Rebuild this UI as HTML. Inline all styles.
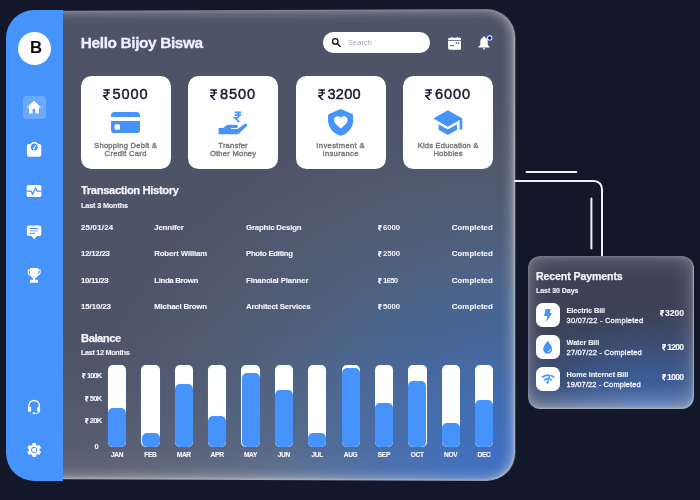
<!DOCTYPE html>
<html><head><meta charset="utf-8"><title>Dashboard</title>
<style>
*{box-sizing:border-box;margin:0;padding:0}
html,body{width:700px;height:500px;overflow:hidden}
body{background:#13172a;font-family:"Liberation Sans",sans-serif;position:relative}
.abs,.t,svg.i{position:absolute}
.t{white-space:nowrap;display:block}
.side{left:6.3px;top:9.7px;width:56.6px;height:470.9px;background:#4593fb;border-radius:28px 0 0 28px}
.panel{left:6.5px;top:10.8px;width:504.4px;height:468.4px;border-radius:28px;transform-origin:0 50%;transform:perspective(1000px) rotateY(-0.975deg);
 background:radial-gradient(ellipse 230px 110px at 100% 100%,rgba(52,104,196,.5) 0%,rgba(52,104,196,.25) 50%,rgba(52,104,196,0) 100%),linear-gradient(to top,rgba(255,255,255,.21) 0,rgba(255,255,255,.14) 6px,rgba(255,255,255,.085) 14px,rgba(255,255,255,.055) 30px,rgba(255,255,255,.035) 60px,rgba(255,255,255,.015) 100px,rgba(255,255,255,0) 150px),
 radial-gradient(ellipse 430px 350px at 100% 94%,#3a6cbd 0%,#3e6aae 13%,#4468a1 26%,#486593 39%,#4c6488 50%,#505e7a 63%,#50596f 80%,#4e5468 100%);
 box-shadow:inset -1.6px -1.5px 0 0 rgba(178,178,176,.62), inset 0 0 14px rgba(255,255,255,.38), inset 0 0 4px rgba(255,255,255,.2), inset -6px 0 12px -4px rgba(255,255,255,.3);}
.card{top:75.5px;width:90px;height:93.3px;background:#fff;border-radius:10.5px}
.bar{top:364.7px;width:18.3px;height:82.2px;background:#fff;border-radius:5px;overflow:hidden;box-shadow:0 0 0 .5px rgba(70,110,190,.45)}
.bar i{position:absolute;left:.15px;right:.15px;bottom:.15px;background:#4593fb;border-radius:5px}
.tile{left:535.7px;width:24.2px;height:24.4px;background:#fff;border-radius:6.5px}
.rp{left:527.5px;top:256px;width:166.3px;height:152.8px;border-radius:12px;
 background:linear-gradient(to top,rgba(255,255,255,.22) 0,rgba(255,255,255,.13) 7px,rgba(255,255,255,.05) 16px,rgba(255,255,255,0) 26px),
 radial-gradient(ellipse 185px 100px at 74% 100%,#3c64a6 0%,#3b5b92 35%,rgba(60,84,130,.55) 68%,rgba(61,66,87,0) 100%),
 #3c4156;
 box-shadow:inset -1.3px -1.3px 0 0 rgba(170,172,178,.8), inset 0 0 26px rgba(255,255,255,.27), inset 0 0 8px rgba(255,255,255,.24), inset 0 0 2px rgba(255,255,255,.2);}
</style></head>
<body>


<div class="abs panel"></div>
<div class="abs side"></div>

<!-- avatar -->
<div class="abs" style="left:18.2px;top:32px;width:33px;height:33px;border-radius:50%;background:#fff"></div>
<span class="t" style="left:15.5px;width:40px;text-align:center;top:39.4px;height:18px;line-height:18px;font-size:16.8px;font-weight:700;color:#0b0b10;will-change:transform">B</span>

<!-- sidebar icons -->
<div class="abs" style="left:22.9px;top:95.9px;width:23px;height:23.1px;border-radius:3.6px;background:rgba(255,255,255,.21)"></div>
<svg class="i" style="left:0;top:0" width="70" height="500" viewBox="0 0 70 500">
<g fill="#fff">
<!-- home -->
<path transform="translate(25.48 98.42) scale(.71 .76)" d="M10 20v-6h4v6h5v-8h3L12 3 2 12h3v8z"/>
<!-- scale -->
<rect x="26.9" y="144" width="14.4" height="12.7" rx="1.9"/>
<circle cx="34.3" cy="147" r="4.9"/>
<!-- heartbeat -->
<rect x="26.7" y="185" width="14.7" height="12" rx="1.7"/>
<!-- message -->
<path d="M28.6 225.500H39.600A1.700 1.700 0 0 1 41.300 227.200V234.300A1.700 1.700 0 0 1 39.600 236H37L34.200 239.200 31.400 236H28.600A1.700 1.700 0 0 1 26.900 234.300V227.200A1.700 1.700 0 0 1 28.600 225.500Z"/>
<!-- trophy -->
<path d="M29.900 268.100H38.300V269.600H40.700V272.200C40.700 274 39.500 275.300 37.900 275.500 37.300 277 36.200 277.900 35 278.200V279.800H36.900C37.600 279.800 38.100 280.300 38.100 281V282.700H29.900V281C29.900 280.300 30.400 279.800 31.100 279.800H33.200V278.200C32 277.900 30.900 277 30.300 275.500 28.700 275.300 27.800 274 27.800 272.200V269.600H29.900ZM28.900 270.700V272.200C28.900 273.200 29.300 273.900 30 274.200 29.900 273.600 29.900 273 29.900 272.400V270.700ZM39.600 270.700H38.300V272.400C38.300 273 38.300 273.600 38.200 274.200 38.900 273.900 39.600 273.200 39.600 272.200Z"/>
<!-- headset cups -->
<rect x="28" y="406.800" width="3.100" height="4.900" rx="1.200"/>
<rect x="37.100" y="406.800" width="3" height="4.900" rx="1.200"/>
<ellipse cx="34" cy="413.300" rx="1.500" ry="1"/>
</g>
<!-- scale dial -->
<circle cx="34.300" cy="147" r="3.500" fill="#4593fb"/>
<path d="M33.800 148.600 35.800 145.200" stroke="#fff" stroke-width="1" stroke-linecap="round"/>
<circle cx="33.800" cy="148.600" r=".9" fill="#fff"/>
<!-- heartbeat line -->
<path d="M26.700 191.100H31.100L32.600 194.300 35.600 188 37.100 191.100H41.400" fill="none" stroke="#4593fb" stroke-width="1.300" stroke-linejoin="round"/>
<!-- message lines -->
<path d="M29.900 228.500H38.200" stroke="#4593fb" stroke-width="1"/>
<path d="M29.900 230.900H38.200" stroke="#8fbcfc" stroke-width="1.100"/>
<path d="M29.900 233.300H35" stroke="#4593fb" stroke-width="1"/>
<!-- headset band + mic -->
<path d="M28.800 408V405.800A5.300 5.300 0 0 1 39.400 405.800V408" fill="none" stroke="#fff" stroke-width="1.300"/>
<path d="M39.200 411V411.600C39.200 412.700 38.300 413.300 37.300 413.300H34.500" fill="none" stroke="#fff" stroke-width=".9"/>
<!-- gear -->
<g transform="translate(34.200 450)">
<g fill="#fff"><circle r="5.300"/>
<rect x="-1.900" y="-7" width="3.800" height="14" rx="1"/>
<rect x="-1.900" y="-7" width="3.800" height="14" rx="1" transform="rotate(60)"/>
<rect x="-1.900" y="-7" width="3.800" height="14" rx="1" transform="rotate(120)"/></g>
<circle r="2.700" fill="none" stroke="#4593fb" stroke-width="1"/>
</g>
</svg>

<!-- search -->
<div class="abs" style="left:323px;top:32.3px;width:107px;height:20.6px;border-radius:10.3px;background:#fff"></div>
<svg class="i" style="left:330px;top:36px" width="14" height="14" viewBox="330 36 14 14"><circle cx="335.25" cy="41.4" r="2.72" fill="none" stroke="#0c0c10" stroke-width="1.3"/><path d="M337.300 43.500 340.200 46.400" stroke="#0c0c10" stroke-width="1.350" stroke-linecap="round"/></svg>
<!-- calendar -->
<svg class="i" style="left:447.8px;top:37.2px" width="13.4" height="12.8" viewBox="0 0 27 26"><rect x="0" y="1.500" width="27" height="24.500" rx="3.500" fill="#fff"/><rect x="6.500" y="0" width="3" height="4" rx="1" fill="#fff"/><rect x="17.500" y="0" width="3" height="4" rx="1" fill="#fff"/><rect x="0" y="6.200" width="27" height="1.600" fill="#555a70"/><g fill="#3a3f55"><rect x="15.500" y="11" width="2.800" height="2.800"/><rect x="20" y="11" width="2.800" height="2.800"/><rect x="4.500" y="16" width="2.800" height="2.800"/><rect x="9" y="16" width="2.800" height="2.800"/></g></svg>
<!-- bell -->
<svg class="i" style="left:478.4px;top:36.4px;overflow:visible" width="14.6" height="13.8" viewBox="0 0 29 27.600"><path fill="#fff" d="M12 0.500C11 0.500 10.300 1.200 10.300 2.200V3C6.500 3.900 4.600 7 4.600 11V16.500C4.600 18.800 2.500 20 0.800 21.500 0.200 22 0.600 23 1.400 23H22.600C23.400 23 23.800 22 23.200 21.500 21.500 20 19.400 18.800 19.400 16.500V11C19.400 7 17.500 3.900 13.700 3V2.200C13.700 1.200 13 .5 12 .5zM9.600 24.300H14.400C14.400 25.800 13.400 26.800 12 26.800S9.600 25.800 9.600 24.300z"/><circle cx="23.400" cy="3.800" r="5.300" fill="#fff"/><circle cx="23.400" cy="3.800" r="3.500" fill="#0808c8"/></svg>

<!-- cards -->
<div class="abs card" style="left:80.500px"></div>
<div class="abs card" style="left:188px"></div>
<div class="abs card" style="left:295.600px"></div>
<div class="abs card" style="left:403px"></div>
<svg class="i" style="left:111px;top:111.8px" width="29" height="21.4" viewBox="0 0 29 21.4"><rect width="29" height="21.4" rx="3.6" fill="#4593fb"/><rect y="5" width="29" height="4" fill="#fff"/><rect x="3.6" y="12.2" width="5.4" height="5.6" rx="1.6" fill="#fff"/></svg>
<svg class="i" style="left:218px;top:111px" width="30" height="24" viewBox="0 0 30 24"><path fill="#4593fb" d="M0.6 17H5L8.6 14.300Q9.400 13.700 10.400 13.700H18.200A1.700 1.700 0 0 1 18.200 17.100H13.200V18.100H19.600L26.500 13.100A1.500 1.500 0 0 1 28.700 15.200L20.800 22.600Q20.200 23.200 19.200 23.200H0.6Z"/><g transform="translate(16.300 0.500) scale(0.1029 0.110)"><path d="M4 8H66M4 33H66M4 8H24C50 8 50 58 24 58H6L48 97" fill="none" stroke="#4593fb" stroke-width="15"/></g></svg>
<svg class="i" style="left:327.8px;top:108.8px" width="25.2" height="26.8" viewBox="0 0 25.2 26.8"><path fill="#4593fb" d="M12.600 0.2Q13.2 0.200 13.800 0.500L24.200 5.100Q25.200 5.600 25.200 6.700V11C25.200 18.500 19.800 24.500 13.600 26.500Q12.600 26.800 11.600 26.500C5.400 24.500 0 18.500 0 11V6.700Q0 5.600 1 5.100L11.400 0.500Q12 0.200 12.600 0.200Z"/><path fill="#fff" transform="translate(4.64 5.17) scale(0.68 0.676)" d="M12 21.350l-1.450-1.320C5.400 15.360 2 12.280 2 8.500 2 5.420 4.420 3 7.500 3c1.740 0 3.410.810 4.500 2.090C13.090 3.810 14.760 3 16.500 3 19.580 3 22 5.420 22 8.500c0 3.780-3.400 6.860-8.550 11.540L12 21.350z"/></svg>
<svg class="i" style="left:432.1px;top:106.3px" width="31.6" height="33.1" viewBox="0 0 24 24" preserveAspectRatio="none"><path fill="#4593fb" d="M5 13.180v4L12 21l7-3.820v-4L12 17l-7-3.820zM12 3L1 9l11 6 9-4.910V17h2V9L12 3z"/></svg>

<!-- bars -->
<div class="abs bar" style="left:108.00px"><i style="height:38.9px"></i></div>
<div class="abs bar" style="left:141.36px"><i style="height:13.7px"></i></div>
<div class="abs bar" style="left:174.72px"><i style="height:62.7px"></i></div>
<div class="abs bar" style="left:208.08px"><i style="height:31.0px"></i></div>
<div class="abs bar" style="left:241.44px"><i style="height:73.7px"></i></div>
<div class="abs bar" style="left:274.80px"><i style="height:57.1px"></i></div>
<div class="abs bar" style="left:308.16px"><i style="height:13.7px"></i></div>
<div class="abs bar" style="left:341.52px"><i style="height:78.3px"></i></div>
<div class="abs bar" style="left:374.88px"><i style="height:43.9px"></i></div>
<div class="abs bar" style="left:408.24px"><i style="height:65.8px"></i></div>
<div class="abs bar" style="left:441.60px"><i style="height:23.5px"></i></div>
<div class="abs bar" style="left:474.96px"><i style="height:46.7px"></i></div>

<!-- connector lines -->
<svg class="i" style="left:500px;top:160px" width="120" height="100" viewBox="500 160 120 100" fill="none" stroke="#f1f1f3" stroke-width="2" stroke-linecap="round"><path d="M526.500 172H576.300"/><path d="M515 180.900H594A8 8 0 0 1 602 188.900V257"/><path d="M591.400 198.600V248.600"/></svg>

<!-- recent payments -->
<div class="abs rp"></div>
<div class="abs tile" style="top:302.5px"></div>
<div class="abs tile" style="top:335px"></div>
<div class="abs tile" style="top:366.8px"></div>
<svg class="i" style="left:543px;top:308.2px" width="10" height="15" viewBox="543 308.2 10 15"><path fill="#4593fb" d="M545.600 309.200H550.600L549.800 313.500H552.100L546.100 322.100 547.300 316.200H544Z"/></svg>
<svg class="i" style="left:542px;top:340px" width="11" height="15" viewBox="542 340 11 15"><path fill="#4593fb" d="M547.700 340.800C549.500 343.200 552.200 346.500 552.200 349.300A4.500 4.500 0 0 1 543.200 349.300C543.200 346.500 545.900 343.200 547.700 340.800Z"/><path d="M548.300 351.700Q550.300 351.400 550.700 349.500" stroke="#fff" stroke-width="0.9" fill="none" stroke-linecap="round"/></svg>
<svg class="i" style="left:540px;top:372px" width="16" height="14" viewBox="540 372 16 14" fill="none" stroke="#4593fb" stroke-linecap="round"><path d="M542.300 377.100Q545.200 375 548.600 375.100" stroke-width="1.600"/><path d="M551.200 375.600Q552.700 376.100 553.700 377.300" stroke-width="1.600"/><path d="M544.500 379.900Q545.800 378.700 547.400 378.500" stroke-width="1.500"/><path d="M550.300 379.100Q551 379.300 551.500 379.900" stroke-width="1.500"/><path d="M549.600 375.800 547.500 382.600" stroke-width="1.600"/><circle cx="547.400" cy="382.700" r="0.600" fill="#4593fb" stroke-width="1"/></svg>

<div class="abs" style="left:0;top:0;width:700px;height:500px;will-change:transform">
<svg class="i" style="left:102.50px;top:88.77px;color:#15192d" width="7.42" height="11.71" viewBox="0 0 70 100" preserveAspectRatio="none"><path d="M4 8H66M4 33H66M4 8H24C50 8 50 58 24 58H6L48 97" fill="none" stroke="currentColor" stroke-width="12.5"/></svg><span class="t a" style="top:85.00px;height:18px;line-height:18px;font-size:14.6px;font-weight:400;color:#15192d;-webkit-text-stroke:0.45px #15192d;letter-spacing:0.876px;right:551.62px;">5000</span>
<svg class="i" style="left:210.20px;top:88.77px;color:#15192d" width="7.42" height="11.71" viewBox="0 0 70 100" preserveAspectRatio="none"><path d="M4 8H66M4 33H66M4 8H24C50 8 50 58 24 58H6L48 97" fill="none" stroke="currentColor" stroke-width="12.5"/></svg><span class="t a" style="top:85.00px;height:18px;line-height:18px;font-size:14.6px;font-weight:400;color:#15192d;-webkit-text-stroke:0.45px #15192d;letter-spacing:0.876px;right:443.92px;">8500</span>
<svg class="i" style="left:317.60px;top:88.77px;color:#15192d" width="7.42" height="11.71" viewBox="0 0 70 100" preserveAspectRatio="none"><path d="M4 8H66M4 33H66M4 8H24C50 8 50 58 24 58H6L48 97" fill="none" stroke="currentColor" stroke-width="12.5"/></svg><span class="t a" style="top:85.00px;height:18px;line-height:18px;font-size:14.6px;font-weight:400;color:#15192d;-webkit-text-stroke:0.45px #15192d;letter-spacing:0.209px;right:339.19px;">3200</span>
<svg class="i" style="left:425.20px;top:88.77px;color:#15192d" width="7.42" height="11.71" viewBox="0 0 70 100" preserveAspectRatio="none"><path d="M4 8H66M4 33H66M4 8H24C50 8 50 58 24 58H6L48 97" fill="none" stroke="currentColor" stroke-width="12.5"/></svg><span class="t a" style="top:85.00px;height:18px;line-height:18px;font-size:14.6px;font-weight:400;color:#15192d;-webkit-text-stroke:0.45px #15192d;letter-spacing:0.876px;right:228.92px;">6000</span>
<svg class="i" style="left:378.00px;top:225.34px;color:#f4f4fb" width="3.79" height="5.93" viewBox="0 0 70 100" preserveAspectRatio="none"><path d="M4 8H66M4 33H66M4 8H24C50 8 50 58 24 58H6L48 97" fill="none" stroke="currentColor" stroke-width="21"/></svg><span class="t a" style="top:219.30px;height:18px;line-height:18px;font-size:7.8px;font-weight:700;color:#f4f4fb;letter-spacing:-0.082px;right:300.08px;">6000</span>
<svg class="i" style="left:378.00px;top:251.24px;color:#f4f4fb" width="3.79" height="5.93" viewBox="0 0 70 100" preserveAspectRatio="none"><path d="M4 8H66M4 33H66M4 8H24C50 8 50 58 24 58H6L48 97" fill="none" stroke="currentColor" stroke-width="21"/></svg><span class="t a" style="top:245.20px;height:18px;line-height:18px;font-size:7.8px;font-weight:700;color:#f4f4fb;letter-spacing:-0.082px;right:300.08px;">2500</span>
<svg class="i" style="left:378.00px;top:278.14px;color:#f4f4fb" width="3.79" height="5.93" viewBox="0 0 70 100" preserveAspectRatio="none"><path d="M4 8H66M4 33H66M4 8H24C50 8 50 58 24 58H6L48 97" fill="none" stroke="currentColor" stroke-width="21"/></svg><span class="t a" style="top:272.10px;height:18px;line-height:18px;font-size:7.8px;font-weight:700;color:#f4f4fb;letter-spacing:-0.682px;right:302.48px;">1650</span>
<svg class="i" style="left:378.00px;top:304.24px;color:#f4f4fb" width="3.79" height="5.93" viewBox="0 0 70 100" preserveAspectRatio="none"><path d="M4 8H66M4 33H66M4 8H24C50 8 50 58 24 58H6L48 97" fill="none" stroke="currentColor" stroke-width="21"/></svg><span class="t a" style="top:298.20px;height:18px;line-height:18px;font-size:7.8px;font-weight:700;color:#f4f4fb;letter-spacing:-0.082px;right:300.08px;">5000</span>
<svg class="i" style="left:82.30px;top:373.25px;color:#f4f4fb" width="3.65" height="5.70" viewBox="0 0 70 100" preserveAspectRatio="none"><path d="M4 8H66M4 33H66M4 8H24C50 8 50 58 24 58H6L48 97" fill="none" stroke="currentColor" stroke-width="21"/></svg><span class="t a" style="top:367.10px;height:18px;line-height:18px;font-size:7.5px;font-weight:700;color:#f4f4fb;-webkit-text-stroke:0.1px #f4f4fb;letter-spacing:-0.912px;right:598.71px;">100K</span>
<svg class="i" style="left:85.10px;top:396.45px;color:#f4f4fb" width="3.65" height="5.70" viewBox="0 0 70 100" preserveAspectRatio="none"><path d="M4 8H66M4 33H66M4 8H24C50 8 50 58 24 58H6L48 97" fill="none" stroke="currentColor" stroke-width="21"/></svg><span class="t a" style="top:390.30px;height:18px;line-height:18px;font-size:7.5px;font-weight:700;color:#f4f4fb;-webkit-text-stroke:0.1px #f4f4fb;letter-spacing:-0.682px;right:598.48px;">50K</span>
<svg class="i" style="left:85.10px;top:418.35px;color:#f4f4fb" width="3.65" height="5.70" viewBox="0 0 70 100" preserveAspectRatio="none"><path d="M4 8H66M4 33H66M4 8H24C50 8 50 58 24 58H6L48 97" fill="none" stroke="currentColor" stroke-width="21"/></svg><span class="t a" style="top:412.20px;height:18px;line-height:18px;font-size:7.5px;font-weight:700;color:#f4f4fb;-webkit-text-stroke:0.1px #f4f4fb;letter-spacing:-0.682px;right:598.48px;">20K</span>
<svg class="i" style="left:659.50px;top:310.03px;color:#f4f4fb" width="4.18" height="6.54" viewBox="0 0 70 100" preserveAspectRatio="none"><path d="M4 8H66M4 33H66M4 8H24C50 8 50 58 24 58H6L48 97" fill="none" stroke="currentColor" stroke-width="21"/></svg><span class="t a" style="top:304.30px;height:18px;line-height:18px;font-size:8.6px;font-weight:700;color:#f4f4fb;-webkit-text-stroke:0.15px #f4f4fb;letter-spacing:-0.004px;right:16.00px;">3200</span>
<svg class="i" style="left:661.80px;top:344.03px;color:#f4f4fb" width="4.18" height="6.54" viewBox="0 0 70 100" preserveAspectRatio="none"><path d="M4 8H66M4 33H66M4 8H24C50 8 50 58 24 58H6L48 97" fill="none" stroke="currentColor" stroke-width="21"/></svg><span class="t a" style="top:338.30px;height:18px;line-height:18px;font-size:8.6px;font-weight:700;color:#f4f4fb;-webkit-text-stroke:0.15px #f4f4fb;letter-spacing:-0.771px;right:16.77px;">1200</span>
<svg class="i" style="left:661.70px;top:374.03px;color:#f4f4fb" width="4.18" height="6.54" viewBox="0 0 70 100" preserveAspectRatio="none"><path d="M4 8H66M4 33H66M4 8H24C50 8 50 58 24 58H6L48 97" fill="none" stroke="currentColor" stroke-width="21"/></svg><span class="t a" style="top:368.30px;height:18px;line-height:18px;font-size:8.6px;font-weight:700;color:#f4f4fb;-webkit-text-stroke:0.15px #f4f4fb;letter-spacing:-0.737px;right:16.74px;">1000</span>
<span class="t" style="top:36.40px;height:14px;line-height:14px;font-size:15.4px;font-weight:700;color:#f1efff;-webkit-text-stroke:0.3px #f1efff;letter-spacing:-0.369px;left:80.80px;">Hello Bijoy Biswa</span>
<span class="t" style="top:36.00px;height:14px;line-height:14px;font-size:7.3px;font-weight:400;color:#a0a5b8;letter-spacing:0.135px;left:348.00px;">Search</span>
<span class="t" style="top:138.60px;height:14px;line-height:14px;font-size:7.6px;font-weight:400;color:#7c7c81;-webkit-text-stroke:0.42px #7c7c81;letter-spacing:0.243px;left:25.62px;width:200px;text-align:center;">Shopping Debit &amp;</span>
<span class="t" style="top:146.70px;height:14px;line-height:14px;font-size:7.6px;font-weight:400;color:#7c7c81;-webkit-text-stroke:0.42px #7c7c81;letter-spacing:0.292px;left:25.65px;width:200px;text-align:center;">Credit Card</span>
<span class="t" style="top:138.60px;height:14px;line-height:14px;font-size:7.6px;font-weight:400;color:#7c7c81;-webkit-text-stroke:0.42px #7c7c81;letter-spacing:0.179px;left:133.09px;width:200px;text-align:center;">Transfer</span>
<span class="t" style="top:146.70px;height:14px;line-height:14px;font-size:7.6px;font-weight:400;color:#7c7c81;-webkit-text-stroke:0.42px #7c7c81;letter-spacing:0.234px;left:133.12px;width:200px;text-align:center;">Other Money</span>
<span class="t" style="top:138.60px;height:14px;line-height:14px;font-size:7.6px;font-weight:400;color:#7c7c81;-webkit-text-stroke:0.42px #7c7c81;letter-spacing:0.361px;left:240.68px;width:200px;text-align:center;">Investment &amp;</span>
<span class="t" style="top:146.70px;height:14px;line-height:14px;font-size:7.6px;font-weight:400;color:#7c7c81;-webkit-text-stroke:0.42px #7c7c81;letter-spacing:0.330px;left:240.67px;width:200px;text-align:center;">Insurance</span>
<span class="t" style="top:138.60px;height:14px;line-height:14px;font-size:7.6px;font-weight:400;color:#7c7c81;-webkit-text-stroke:0.42px #7c7c81;letter-spacing:0.194px;left:348.10px;width:200px;text-align:center;">Kids Education &amp;</span>
<span class="t" style="top:146.70px;height:14px;line-height:14px;font-size:7.6px;font-weight:400;color:#7c7c81;-webkit-text-stroke:0.42px #7c7c81;letter-spacing:0.229px;left:348.11px;width:200px;text-align:center;">Hobbies</span>
<span class="t" style="top:183.30px;height:14px;line-height:14px;font-size:11.2px;font-weight:700;color:#f4f4fb;-webkit-text-stroke:0.25px #f4f4fb;letter-spacing:-0.359px;left:81.00px;">Transaction History</span>
<span class="t" style="top:199.40px;height:14px;line-height:14px;font-size:7.3px;font-weight:700;color:#f4f4fb;-webkit-text-stroke:0.1px #f4f4fb;letter-spacing:-0.172px;left:81.00px;">Last 3 Months</span>
<span class="t" style="top:221.30px;height:14px;line-height:14px;font-size:7.8px;font-weight:700;color:#f4f4fb;-webkit-text-stroke:0.12px #f4f4fb;letter-spacing:0.249px;left:81.00px;">25/01/24</span>
<span class="t" style="top:221.30px;height:14px;line-height:14px;font-size:7.8px;font-weight:700;color:#f4f4fb;-webkit-text-stroke:0.12px #f4f4fb;letter-spacing:-0.121px;left:154.20px;">Jennifer</span>
<span class="t" style="top:221.30px;height:14px;line-height:14px;font-size:7.8px;font-weight:700;color:#f4f4fb;-webkit-text-stroke:0.12px #f4f4fb;letter-spacing:-0.163px;left:246.00px;">Graphic Design</span>
<span class="t" style="top:221.30px;height:14px;line-height:14px;font-size:7.8px;font-weight:700;color:#f4f4fb;-webkit-text-stroke:0.12px #f4f4fb;letter-spacing:0.088px;right:207.11px;">Completed</span>
<span class="t" style="top:247.20px;height:14px;line-height:14px;font-size:7.8px;font-weight:700;color:#f4f4fb;-webkit-text-stroke:0.12px #f4f4fb;letter-spacing:-0.208px;left:81.00px;">12/12/23</span>
<span class="t" style="top:247.20px;height:14px;line-height:14px;font-size:7.8px;font-weight:700;color:#f4f4fb;-webkit-text-stroke:0.12px #f4f4fb;letter-spacing:-0.109px;left:154.20px;">Robert William</span>
<span class="t" style="top:247.20px;height:14px;line-height:14px;font-size:7.8px;font-weight:700;color:#f4f4fb;-webkit-text-stroke:0.12px #f4f4fb;letter-spacing:-0.306px;left:246.00px;">Photo Editing</span>
<span class="t" style="top:247.20px;height:14px;line-height:14px;font-size:7.8px;font-weight:700;color:#f4f4fb;-webkit-text-stroke:0.12px #f4f4fb;letter-spacing:0.088px;right:207.11px;">Completed</span>
<span class="t" style="top:274.10px;height:14px;line-height:14px;font-size:7.8px;font-weight:700;color:#f4f4fb;-webkit-text-stroke:0.12px #f4f4fb;letter-spacing:-0.317px;left:81.00px;">10/11/23</span>
<span class="t" style="top:274.10px;height:14px;line-height:14px;font-size:7.8px;font-weight:700;color:#f4f4fb;-webkit-text-stroke:0.12px #f4f4fb;letter-spacing:-0.322px;left:154.20px;">Linda Brown</span>
<span class="t" style="top:274.10px;height:14px;line-height:14px;font-size:7.8px;font-weight:700;color:#f4f4fb;-webkit-text-stroke:0.12px #f4f4fb;letter-spacing:-0.129px;left:246.00px;">Financial Planner</span>
<span class="t" style="top:274.10px;height:14px;line-height:14px;font-size:7.8px;font-weight:700;color:#f4f4fb;-webkit-text-stroke:0.12px #f4f4fb;letter-spacing:0.088px;right:207.11px;">Completed</span>
<span class="t" style="top:300.20px;height:14px;line-height:14px;font-size:7.8px;font-weight:700;color:#f4f4fb;-webkit-text-stroke:0.12px #f4f4fb;letter-spacing:-0.066px;left:81.00px;">15/10/23</span>
<span class="t" style="top:300.20px;height:14px;line-height:14px;font-size:7.8px;font-weight:700;color:#f4f4fb;-webkit-text-stroke:0.12px #f4f4fb;letter-spacing:-0.186px;left:154.20px;">Michael Brown</span>
<span class="t" style="top:300.20px;height:14px;line-height:14px;font-size:7.8px;font-weight:700;color:#f4f4fb;-webkit-text-stroke:0.12px #f4f4fb;letter-spacing:-0.209px;left:246.00px;">Architect Services</span>
<span class="t" style="top:300.20px;height:14px;line-height:14px;font-size:7.8px;font-weight:700;color:#f4f4fb;-webkit-text-stroke:0.12px #f4f4fb;letter-spacing:0.088px;right:207.11px;">Completed</span>
<span class="t" style="top:331.30px;height:14px;line-height:14px;font-size:11.2px;font-weight:700;color:#f4f4fb;-webkit-text-stroke:0.25px #f4f4fb;letter-spacing:-0.454px;left:81.00px;">Balance</span>
<span class="t" style="top:345.90px;height:14px;line-height:14px;font-size:7.3px;font-weight:700;color:#f4f4fb;-webkit-text-stroke:0.1px #f4f4fb;letter-spacing:-0.340px;left:81.00px;">Last 12 Months</span>
<span class="t" style="top:439.90px;height:14px;line-height:14px;font-size:7.5px;font-weight:700;color:#f4f4fb;-webkit-text-stroke:0.1px #f4f4fb;left:-3.30px;width:200px;text-align:center;">0</span>
<span class="t" style="top:447.70px;height:14px;line-height:14px;font-size:6.6px;font-weight:700;color:#f4f4fb;-webkit-text-stroke:0.15px #f4f4fb;letter-spacing:-0.300px;left:17.05px;width:200px;text-align:center;">JAN</span>
<span class="t" style="top:447.70px;height:14px;line-height:14px;font-size:6.6px;font-weight:700;color:#f4f4fb;-webkit-text-stroke:0.15px #f4f4fb;letter-spacing:-0.300px;left:50.41px;width:200px;text-align:center;">FEB</span>
<span class="t" style="top:447.70px;height:14px;line-height:14px;font-size:6.6px;font-weight:700;color:#f4f4fb;-webkit-text-stroke:0.15px #f4f4fb;letter-spacing:-0.300px;left:83.77px;width:200px;text-align:center;">MAR</span>
<span class="t" style="top:447.70px;height:14px;line-height:14px;font-size:6.6px;font-weight:700;color:#f4f4fb;-webkit-text-stroke:0.15px #f4f4fb;letter-spacing:-0.300px;left:117.13px;width:200px;text-align:center;">APR</span>
<span class="t" style="top:447.70px;height:14px;line-height:14px;font-size:6.6px;font-weight:700;color:#f4f4fb;-webkit-text-stroke:0.15px #f4f4fb;letter-spacing:-0.300px;left:150.49px;width:200px;text-align:center;">MAY</span>
<span class="t" style="top:447.70px;height:14px;line-height:14px;font-size:6.6px;font-weight:700;color:#f4f4fb;-webkit-text-stroke:0.15px #f4f4fb;letter-spacing:-0.300px;left:183.85px;width:200px;text-align:center;">JUN</span>
<span class="t" style="top:447.70px;height:14px;line-height:14px;font-size:6.6px;font-weight:700;color:#f4f4fb;-webkit-text-stroke:0.15px #f4f4fb;letter-spacing:-0.300px;left:217.21px;width:200px;text-align:center;">JUL</span>
<span class="t" style="top:447.70px;height:14px;line-height:14px;font-size:6.6px;font-weight:700;color:#f4f4fb;-webkit-text-stroke:0.15px #f4f4fb;letter-spacing:-0.300px;left:250.57px;width:200px;text-align:center;">AUG</span>
<span class="t" style="top:447.70px;height:14px;line-height:14px;font-size:6.6px;font-weight:700;color:#f4f4fb;-webkit-text-stroke:0.15px #f4f4fb;letter-spacing:-0.300px;left:283.93px;width:200px;text-align:center;">SEP</span>
<span class="t" style="top:447.70px;height:14px;line-height:14px;font-size:6.6px;font-weight:700;color:#f4f4fb;-webkit-text-stroke:0.15px #f4f4fb;letter-spacing:-0.300px;left:317.29px;width:200px;text-align:center;">OCT</span>
<span class="t" style="top:447.70px;height:14px;line-height:14px;font-size:6.6px;font-weight:700;color:#f4f4fb;-webkit-text-stroke:0.15px #f4f4fb;letter-spacing:-0.300px;left:350.65px;width:200px;text-align:center;">NOV</span>
<span class="t" style="top:447.70px;height:14px;line-height:14px;font-size:6.6px;font-weight:700;color:#f4f4fb;-webkit-text-stroke:0.15px #f4f4fb;letter-spacing:-0.300px;left:384.01px;width:200px;text-align:center;">DEC</span>
<span class="t" style="top:269.40px;height:14px;line-height:14px;font-size:10.6px;font-weight:700;color:#f4f4fb;-webkit-text-stroke:0.25px #f4f4fb;letter-spacing:-0.116px;left:536.00px;">Recent Payments</span>
<span class="t" style="top:283.80px;height:14px;line-height:14px;font-size:7px;font-weight:700;color:#f4f4fb;-webkit-text-stroke:0.1px #f4f4fb;letter-spacing:-0.028px;left:536.00px;">Last 30 Days</span>
<span class="t" style="top:303.50px;height:14px;line-height:14px;font-size:7.3px;font-weight:700;color:#f4f4fb;-webkit-text-stroke:0.1px #f4f4fb;letter-spacing:-0.113px;left:566.60px;">Electric Bill</span>
<span class="t" style="top:313.70px;height:14px;line-height:14px;font-size:7.5px;font-weight:400;color:#f4f4fb;-webkit-text-stroke:0.3px #f4f4fb;letter-spacing:0.229px;left:566.60px;">30/07/22 - Completed</span>
<span class="t" style="top:336.00px;height:14px;line-height:14px;font-size:7.3px;font-weight:700;color:#f4f4fb;-webkit-text-stroke:0.1px #f4f4fb;letter-spacing:-0.077px;left:566.60px;">Water Bill</span>
<span class="t" style="top:345.60px;height:14px;line-height:14px;font-size:7.5px;font-weight:400;color:#f4f4fb;-webkit-text-stroke:0.3px #f4f4fb;letter-spacing:0.161px;left:566.60px;">27/07/22 - Completed</span>
<span class="t" style="top:367.70px;height:14px;line-height:14px;font-size:7.3px;font-weight:700;color:#f4f4fb;-webkit-text-stroke:0.1px #f4f4fb;letter-spacing:-0.049px;left:566.60px;">Home Internet Bill</span>
<span class="t" style="top:378.00px;height:14px;line-height:14px;font-size:7.5px;font-weight:400;color:#f4f4fb;-webkit-text-stroke:0.3px #f4f4fb;letter-spacing:0.103px;left:566.60px;">19/07/22 - Completed</span>
</div>
</body></html>
